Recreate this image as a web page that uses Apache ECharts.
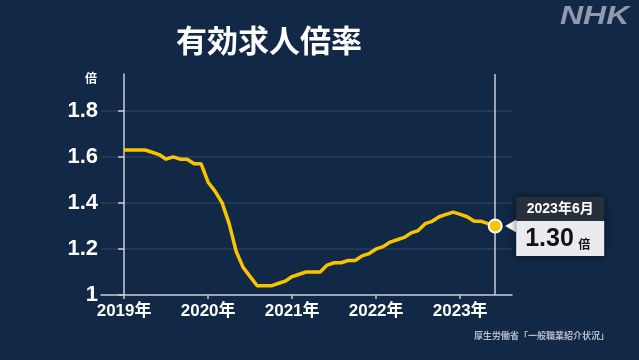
<!DOCTYPE html>
<html>
<head>
<meta charset="utf-8">
<script src="https://cdn.jsdelivr.net/npm/echarts@6/dist/echarts.min.js"></script>
<style>html,body{margin:0;padding:0;background:#112847;}#c{width:639px;height:360px;}</style>
</head>
<body>
<div id="c"></div>
<script>
const titleText = '有効求人倍率';
const yUnit = '倍';
const sourceText = '厚生労働省「一般職業紹介状況」';
const logoText = 'NHK';
const startYear = 2019;
const xTickYears = [2019, 2020, 2021, 2022, 2023];
const yTicks = [1, 1.2, 1.4, 1.6, 1.8];
const v2019 = [1.63, 1.63, 1.63, 1.63, 1.62, 1.61, 1.59, 1.60, 1.59, 1.59, 1.57, 1.57];
const v2020 = [1.49, 1.45, 1.40, 1.31, 1.19, 1.12, 1.08, 1.04, 1.04, 1.04, 1.05, 1.06];
const v2021 = [1.08, 1.09, 1.10, 1.10, 1.10, 1.13, 1.14, 1.14, 1.15, 1.15, 1.17, 1.18];
const v2022 = [1.20, 1.21, 1.23, 1.24, 1.25, 1.27, 1.28, 1.31, 1.32, 1.34, 1.35, 1.36];
const v2023 = [1.35, 1.34, 1.32, 1.32, 1.31, 1.30];

const FONT = '"Liberation Sans", "Noto Sans CJK JP", sans-serif';
const CJK = '"Noto Sans CJK JP", sans-serif';
const GOLD = '#f8c400';
const AXIS = '#c9ced6';

const values = [].concat(v2019, v2020, v2021, v2022, v2023);
const data = values.map((v, i) => [i, v]);
const last = data[data.length - 1];
const lastYear = startYear + Math.floor(last[0] / 12);
const lastMonth = (last[0] % 12) + 1;
const latestLabel = lastYear + '年' + lastMonth + '月';

const chart = echarts.init(document.getElementById('c'));
chart.setOption({
  backgroundColor: '#112847',
  animation: false,
  grid: { left: 101, right: 127, top: 74, bottom: 65 },
  xAxis: {
    type: 'value', min: -3.3, max: 55.4,
    axisLine: { lineStyle: { color: AXIS, width: 1.5 } },
    axisTick: { show: true, customValues: xTickYears.map(y => (y - startYear) * 12), length: 4, lineStyle: { color: AXIS, width: 1.5 } },
    axisLabel: {
      customValues: xTickYears.map(y => (y - startYear) * 12),
      formatter: v => (startYear + Math.round(v / 12)) + '年',
      color: '#fff', fontWeight: 'bold', fontSize: 17, fontFamily: FONT, margin: 8
    },
    splitLine: { show: false }
  },
  yAxis: {
    type: 'value', min: 1, max: 1.96, offset: -6,
    axisLine: { show: true, lineStyle: { color: AXIS, width: 1.5 } },
    axisTick: { show: true, customValues: yTicks, length: 6, lineStyle: { color: AXIS, width: 1.5 } },
    axisLabel: {
      customValues: yTicks,
      formatter: v => (Math.abs(v - 1) < 1e-9 ? '1' : v.toFixed(1)),
      color: '#fff', fontWeight: 'bold', fontSize: 22, fontFamily: FONT, margin: 9
    },
    splitLine: { show: false }
  },
  series: [
    {
      type: 'line', data: [], z: 1, silent: true,
      markLine: {
        silent: true, symbol: 'none', label: { show: false },
        lineStyle: { color: 'rgba(255,255,255,0.1)', width: 1.5, type: 'solid' },
        data: yTicks.slice(1).map(v => ({ yAxis: v }))
      }
    },
    {
      type: 'line', data: [], z: 2, silent: true,
      markLine: {
        silent: true, symbol: 'none', label: { show: false },
        lineStyle: { color: AXIS, width: 1.5, type: 'solid' },
        data: [{ xAxis: last[0] }]
      }
    },
    {
      type: 'line', data: data, showSymbol: false, z: 3,
      lineStyle: { color: GOLD, width: 3.5 }
    },
    {
      type: 'scatter', data: [last], symbolSize: 13, z: 5,
      itemStyle: { color: GOLD, borderColor: '#fff', borderWidth: 2, opacity: 1 }
    }
  ]
});

const pt = chart.convertToPixel({ gridIndex: 0 }, last);
const px = pt[0], py = pt[1];
chart.setOption({
  graphic: [
    { type: 'text', x: 269, y: 40, style: { text: titleText, fill: '#fff', font: 'bold 31px ' + CJK, align: 'center', verticalAlign: 'middle' } },
    { type: 'text', x: 85, y: 72, style: { text: yUnit, fill: '#fff', font: 'bold 12px ' + CJK } },
    { type: 'text', x: 560, y: 5, scaleX: 1.28, style: { text: logoText, fill: '#8e9ab0', font: 'italic bold 25px "Liberation Sans", sans-serif' } },
    { type: 'text', x: 474, y: 331, style: { text: sourceText, fill: '#b4bbc6', font: 'bold 9px ' + CJK } },
    {
      type: 'group', z: 20,
      children: [
        { type: 'polygon', shape: { points: [[px + 10, py], [px + 22, py - 7], [px + 22, py + 7]] }, style: { fill: '#fff' } },
        { type: 'rect', shape: { x: px + 21, y: py - 29, width: 88, height: 59 }, style: { fill: '#27303a', shadowBlur: 8, shadowColor: 'rgba(0,0,0,0.55)' } },
        { type: 'rect', shape: { x: px + 21, y: py - 5, width: 88, height: 35 }, style: { fill: '#e9ebef' } },
        { type: 'text', x: px + 65, y: py - 17, style: { text: latestLabel, fill: '#fff', font: 'bold 14px ' + FONT, align: 'center', verticalAlign: 'middle' } },
        { type: 'text', x: px + 30, y: py + 13, style: { text: last[1].toFixed(2), fill: '#111', font: 'bold 25px ' + FONT, align: 'left', verticalAlign: 'middle' } },
        { type: 'text', x: px + 83, y: py + 18, style: { text: yUnit, fill: '#111', font: 'bold 12px ' + CJK, align: 'left', verticalAlign: 'middle' } }
      ]
    }
  ]
});
</script>
</body>
</html>
